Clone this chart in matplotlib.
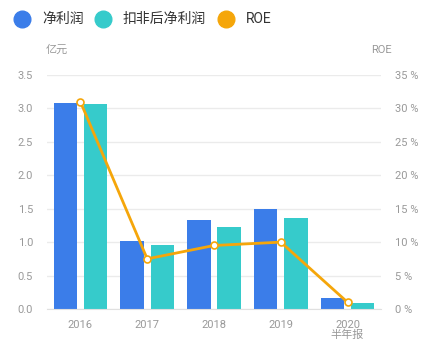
import matplotlib
matplotlib.use("Agg")
import matplotlib.pyplot as plt
from matplotlib.lines import Line2D
import numpy as np

plt.rcParams['font.family'] = ['Roboto', 'Noto Sans CJK SC', 'DejaVu Sans']

years = ["2016", "2017", "2018", "2019", "2020\n半年报"]
net_profit = [3.08, 1.01, 1.33, 1.50, 0.165]
net_profit_adj = [3.06, 0.96, 1.23, 1.36, 0.085]
roe = [31.0, 7.5, 9.5, 10.0, 1.0]

legend_names = ["净利润", "扣非后净利润", "ROE"]
blue = "#3b7de9"
teal = "#36cbcb"
orange = "#f5a60a"
grey = "#999999"

fig = plt.figure(figsize=(4.29, 3.52), dpi=100)
ax = fig.add_axes([47/429, 1-309/352, 334/429, 234/352])
ax2 = ax.twinx()

x = np.arange(len(years))
w = 0.35
ax.bar(x - 0.225, net_profit, w, color=blue, zorder=2)
ax.bar(x + 0.225, net_profit_adj, w, color=teal, zorder=2)
ax2.plot(x, roe, color=orange, lw=2, marker='o', ms=5,
         mfc='white', mec=orange, mew=1.2, zorder=3)

ax.set_xlim(-0.5, 4.5)
ax.set_ylim(0, 3.5)
ax2.set_ylim(0, 35)
ax.set_yticks(np.arange(0, 3.6, 0.5))
ax.set_yticklabels(["%.1f" % v for v in np.arange(0, 3.6, 0.5)])
ax2.set_yticks(range(0, 36, 5))
ax2.set_yticklabels(["%d %%" % v for v in range(0, 36, 5)])
ax.set_xticks(x)
ax.set_xticklabels(years, linespacing=0.95)

ax.grid(axis='y', color='#ebebeb', lw=1, zorder=0)
for a in (ax, ax2):
    for s in a.spines.values():
        s.set_visible(False)
    a.tick_params(length=0, colors=grey, labelsize=8)
ax.spines['bottom'].set_visible(True)
ax.spines['bottom'].set_color('#e0e0e0')
ax.tick_params(axis='y', pad=10)
ax2.tick_params(axis='y', pad=10)
ax.tick_params(axis='x', pad=8)

fig.text(46/429, 1-50/352, "亿元", color=grey, fontsize=8, va='center')
fig.text(371/429, 1-50/352, "ROE", color=grey, fontsize=8, va='center')

# legend drawn by hand across the top
leg_x = [22, 103, 226]
for cx, c, name in zip(leg_x, [blue, teal, orange], legend_names):
    fig.add_artist(Line2D([cx/429], [1-19/352], transform=fig.transFigure,
                          ls='none', marker='o', ms=12, color=c))
    fig.text((cx+20)/429, 1-19/352, name, fontsize=10, color='#333333',
             va='center', ha='left')

fig.savefig("out.png", dpi=100)
